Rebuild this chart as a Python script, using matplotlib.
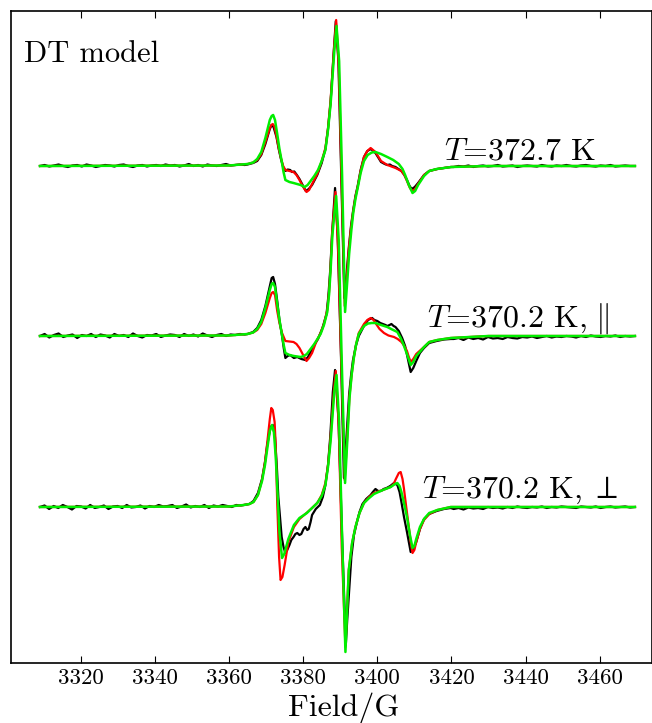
import numpy as np
import matplotlib
matplotlib.use("Agg")
import matplotlib.pyplot as plt

plt.rcParams['font.family'] = 'serif'
plt.rcParams['font.serif'] = ['cmr10']
plt.rcParams['mathtext.fontset'] = 'cm'
plt.rcParams['axes.formatter.use_mathtext'] = False

# vertical offsets of the three stacked spectra
offsets = [0, -170, -341]
labels = [r'$T$=372.7 K', r'$T$=370.2 K,$\;\|$', r'$T$=370.2 K,$\;\perp$']
label_pos = [(3417.9, 6.7), (3413.5, -160.7), (3412.0, -332.0)]
xticks = [3320, 3340, 3360, 3380, 3400, 3420, 3440, 3460]

# ---- T=372.7 K : (field, signal) ----
red_top = [(3309, 0), (3360, 0.5), (3365, 2), (3366.5, 3.5), (3367.6, 6), (3368.7, 12), (3369.8, 24), (3371.0, 38),
           (3371.4, 41), (3371.8, 42), (3372.2, 40), (3372.8, 30), (3373.4, 18), (3374.0, 8), (3374.6, 0),
           (3375.2, -4), (3376.3, -5), (3377.4, -6), (3378.2, -9), (3379.0, -14), (3380.0, -21), (3380.9, -26),
           (3381.6, -24), (3382.4, -18), (3383.8, -8), (3385.0, 5), (3386.0, 18), (3386.7, 38), (3387.4, 66),
           (3388.3, 116), (3388.9, 146), (3389.6, 100), (3390.4, -20), (3391.2, -140), (3391.8, -110),
           (3392.3, -84), (3392.9, -62), (3393.5, -45), (3394.1, -31), (3394.7, -21), (3395.5, -5), (3396.4, 9),
           (3397.3, 15), (3398.2, 18), (3399.5, 14), (3401.0, 5), (3402.7, 1), (3404.9, -2), (3406.5, -5),
           (3407.3, -9), (3408.0, -15), (3408.8, -22), (3409.5, -25), (3410.2, -23), (3411.0, -18), (3412.6, -9),
           (3414.0, -5), (3416.2, -3), (3419.8, -1), (3430, 0), (3469.5, 0)]
green_top = [(3309, 0), (3360, 0.5), (3365, 2), (3366.5, 3.5), (3367.6, 7), (3368.7, 14), (3369.8, 28), (3371.0, 46),
             (3371.5, 50), (3371.9, 51), (3372.4, 46), (3373.0, 32), (3373.6, 17), (3374.2, 5), (3374.7, -6),
             (3375.2, -14), (3376.3, -16), (3377.4, -17), (3379.3, -19), (3380.4, -21), (3381.2, -19), (3382.0, -15),
             (3383.0, -10), (3384.0, -4), (3385.0, 5), (3386.0, 16), (3386.7, 36), (3387.4, 62), (3388.4, 115),
             (3389.0, 140), (3389.7, 105), (3390.5, -10), (3391.3, -146), (3391.9, -115), (3392.4, -88),
             (3393.0, -64), (3393.5, -47), (3394.1, -33), (3394.7, -22), (3395.5, -7), (3396.4, 5), (3397.4, 11),
             (3398.5, 13.5), (3399.5, 14), (3401.0, 12), (3402.7, 9), (3404.3, 6), (3405.8, 2), (3406.8, -3),
             (3407.5, -9), (3408.5, -19), (3409.5, -27), (3410.2, -25), (3411.0, -19), (3412.6, -10), (3414.0, -5),
             (3416.0, -3), (3420.0, -1), (3430, 0), (3469.5, 0)]
black_top = [(3365, 1.5), (3366.5, 3), (3367.6, 5), (3368.7, 11), (3369.8, 22), (3371.0, 37), (3371.5, 41),
             (3372.0, 39), (3372.8, 29), (3373.4, 17), (3374.0, 7), (3374.6, -1), (3375.2, -5), (3375.8, -3.5),
             (3376.5, -4), (3377.0, -6), (3377.6, -5.5), (3378.3, -9), (3379.0, -13), (3380.0, -20), (3380.7, -25),
             (3381.5, -23), (3382.4, -19), (3383.8, -9), (3385.0, 3), (3386.0, 17), (3386.7, 37), (3387.4, 64),
             (3388.2, 112), (3388.8, 145), (3389.5, 105), (3390.3, -15), (3391.1, -132), (3391.7, -108),
             (3392.3, -82), (3392.9, -60), (3393.5, -44), (3394.1, -30), (3394.7, -20), (3395.5, -4), (3396.4, 9),
             (3397.3, 15), (3398.3, 17), (3399.5, 13), (3401.0, 4), (3402.0, 2), (3402.7, 1), (3403.4, 1.5),
             (3404.0, 0), (3404.9, -1), (3405.7, -3), (3406.5, -5), (3407.3, -9), (3408.0, -14), (3408.7, -20),
             (3409.3, -23), (3410.1, -21), (3411.0, -17), (3412.6, -9), (3414.0, -5), (3416.2, -3), (3419.8, -1)]
black_top_left = [0, 1, -0.5, 0.5, 1.5, 0, -1, 0.5, 1, -0.5, 1.5, 0.5, -1, 0, 1, 0.5, -0.5, 1, 1.5, 0, -1, 0.5, 1,
                  -0.5, 0.5, 1, 0, 1.5, 0.5, 1, -0.5, 0.5, 2, 0, 1, -0.5, 1.5, 0.5, 0, 1, 2, 0.5, 1, 1.5, 1]
black_top_right = [-1, 0, -0.5, 0.5, -1, 0, 0.5, -0.5, 0, 1, -0.5, 0, 0.5, -1, 0, 0.5, 0, -0.5, 1, 0, -0.5, 0.5, 0,
                   1, 0, -0.5, 0.5, 1, 0, -0.5, 0.5, 0, 1, -0.5, 0, 0.5, 0, 0]

# ---- T=370.2 K, parallel ----
red_mid = [(3309, 0), (3360, 0.5), (3365, 2), (3366.5, 3.5), (3367.6, 6), (3368.7, 12), (3369.8, 23), (3371.0, 38),
           (3371.5, 43), (3371.9, 44), (3372.4, 41), (3373.0, 25), (3373.6, 13), (3374.3, 3), (3375.2, -5),
           (3376.3, -5.5), (3377.4, -6), (3378.2, -8), (3379.0, -12), (3380.0, -19), (3380.9, -25), (3381.6, -22),
           (3382.4, -17), (3383.5, -6), (3384.7, 3), (3385.6, 12), (3386.5, 26), (3387.0, 45), (3387.4, 69),
           (3387.8, 103), (3388.7, 144), (3389.4, 90), (3390.3, -30), (3391.2, -144), (3391.9, -100), (3392.5, -60),
           (3393.1, -38), (3393.7, -21), (3394.3, -8), (3395.0, 3), (3396.4, 12), (3397.3, 16), (3398.2, 18),
           (3399.0, 16), (3399.5, 13), (3400.6, 7), (3401.8, 3), (3403.0, 0.5), (3404.5, -1), (3405.5, -3),
           (3406.5, -6), (3407.3, -10), (3408.0, -15), (3408.5, -21), (3409.0, -26), (3409.7, -23), (3410.5, -18),
           (3412.6, -11), (3414.0, -6), (3416.2, -4), (3419.8, -2), (3430, 0), (3469.5, 0)]
green_mid = [(3309, 0), (3360, 0.5), (3365, 2), (3366.5, 3.5), (3367.6, 7), (3368.7, 14), (3369.8, 28), (3371.0, 46),
             (3371.5, 52), (3371.9, 53), (3372.4, 49), (3373.0, 32), (3373.6, 16), (3374.2, 3), (3374.7, -8),
             (3375.2, -17), (3376.3, -19), (3377.5, -20), (3379.3, -21), (3380.2, -20), (3381.0, -18), (3382.0, -13),
             (3383.0, -8), (3384.7, 2), (3385.6, 11), (3386.5, 24), (3387.0, 42), (3387.4, 66), (3387.9, 102),
             (3388.9, 140), (3389.6, 95), (3390.4, -25), (3391.3, -147), (3391.9, -105), (3392.5, -62),
             (3393.1, -38), (3393.7, -21), (3394.3, -8), (3395.0, 2), (3396.4, 10), (3397.5, 12.5), (3398.5, 13),
             (3399.5, 13), (3401.0, 11), (3402.7, 9), (3404.0, 6.5), (3405.4, 4), (3406.3, -2), (3407.0, -8),
             (3408.0, -18), (3409.0, -29), (3409.7, -26), (3410.5, -20), (3412.6, -11), (3414.0, -6), (3416.2, -4),
             (3419.8, -2), (3430, 0), (3469.5, 0)]
black_mid = [(3365, 2), (3366.5, 4), (3367.6, 8), (3368.7, 16), (3369.8, 30), (3371.0, 50), (3371.5, 58),
             (3371.9, 59), (3372.4, 52), (3373.0, 35), (3373.6, 16), (3374.3, 0), (3374.8, -13), (3375.2, -22),
             (3375.8, -20), (3376.5, -19), (3377.5, -22), (3378.4, -21), (3379.5, -23), (3380.6, -24), (3381.3, -21),
             (3382.0, -16), (3383.0, -9), (3384.0, -3), (3385.2, 8), (3386.3, 22), (3386.8, 40), (3387.3, 66),
             (3387.8, 102), (3388.6, 148), (3389.3, 100), (3390.2, -20), (3391.0, -142), (3391.7, -100),
             (3392.4, -58), (3392.9, -40), (3393.4, -25), (3394.2, -10), (3395.0, 0), (3396.4, 10), (3397.5, 16),
             (3398.6, 18), (3399.2, 16), (3400.0, 15), (3400.8, 13), (3401.5, 12), (3402.2, 11), (3402.7, 10),
             (3403.3, 11), (3403.8, 12), (3404.4, 10), (3404.9, 9), (3405.8, 5), (3406.7, -2), (3407.5, -10),
             (3408.3, -24), (3409.0, -36), (3409.7, -32), (3410.5, -25), (3411.5, -17), (3412.6, -12), (3414.0, -7),
             (3416.0, -5), (3418.0, -3.5), (3419.8, -3)]
black_mid_left = [0, 2, -1.5, 1, 2.5, -1, 0.5, 1.5, -2, 1, 0, 2, -1, 1.5, 0.5, -1.5, 2, 0, 1, -1, 2.5, 0, -1.5, 1,
                  0.5, 2, -1, 0.5, 1.5, 1, -1, 2, 0, 1.5, -0.5, 2.5, 0.5, -1, 1, 2, 0, 1.5, 1, 2, 1.5]
black_mid_right = [-3, -2, -4, -1.5, -3, -2, -3.5, -1, -2.5, -2, -3, -1, -2, -2.5, -1, -1.5, -0.5, -2, -1, 0, -1.5,
                   -0.5, -1, 0, -0.5, -1.5, 0, -1, 0.5, -0.5, -1, 0, -0.5, 0.5, -1, 0, -0.5, 0]

# ---- T=370.2 K, perpendicular ----
red_bot = [(3309, 0), (3360, 0.5), (3364, 2), (3365.5, 3), (3366.6, 5), (3367.8, 12), (3368.9, 27), (3369.7, 45),
           (3370.3, 64), (3371.0, 88), (3371.4, 99), (3371.8, 97), (3372.3, 85), (3372.6, 60), (3373.0, 4),
           (3373.5, -50), (3373.9, -73), (3374.4, -70), (3375.0, -58), (3376.0, -35), (3377.5, -20), (3379.0, -12),
           (3380.9, -6), (3382.4, -1), (3383.8, 4), (3385.0, 12), (3386.0, 24), (3386.7, 42), (3387.4, 70),
           (3388.3, 117), (3388.8, 136), (3389.6, 80), (3390.4, -40), (3391.4, -140), (3391.8, -105), (3392.3, -63),
           (3393.2, -36), (3394.1, -20), (3395.2, -6), (3396.4, 4), (3397.8, 10), (3399.1, 14), (3401.5, 17),
           (3403.6, 20), (3404.4, 23), (3405.0, 28), (3405.8, 34), (3406.3, 35), (3406.8, 28), (3407.2, 18),
           (3407.8, 0), (3408.5, -20), (3409.0, -35), (3409.5, -46), (3410.0, -43), (3410.5, -35), (3411.5, -22),
           (3412.6, -13), (3414.0, -7), (3416.2, -3), (3419.8, 0), (3430, 0), (3469.5, 0)]
green_bot = [(3309, 0), (3360, 0.5), (3364, 2), (3365.5, 3), (3366.6, 5), (3367.8, 12), (3368.9, 26), (3369.7, 42),
             (3370.3, 58), (3371.0, 76), (3371.6, 82), (3372.1, 75), (3372.6, 50), (3373.0, 20), (3373.6, -25),
             (3374.3, -51), (3374.9, -47), (3376.0, -32), (3377.5, -18), (3379.0, -11), (3381.0, -6), (3382.4, -1),
             (3383.8, 4), (3385.0, 11), (3386.0, 22), (3386.7, 40), (3387.4, 66), (3388.4, 115), (3389.0, 132),
             (3389.7, 85), (3390.5, -30), (3391.4, -145), (3391.8, -108), (3392.3, -63), (3393.2, -36),
             (3394.1, -20), (3395.2, -6), (3396.4, 4), (3397.8, 9), (3399.1, 13), (3401.5, 17), (3403.6, 20),
             (3404.8, 23), (3405.4, 24), (3406.0, 21), (3406.5, 15), (3407.2, 4), (3408.0, -10), (3408.8, -28),
             (3409.5, -41), (3410.0, -39), (3410.5, -32), (3411.5, -20), (3412.6, -12), (3414.0, -6), (3416.2, -3),
             (3419.8, 0), (3430, 0), (3469.5, 0)]
black_bot = [(3364, 2), (3365.5, 3), (3366.6, 6), (3367.8, 14), (3368.9, 28), (3369.7, 45), (3370.3, 62),
             (3371.2, 80), (3371.8, 82), (3372.4, 70), (3372.9, 40), (3373.3, 10), (3373.8, -12), (3374.2, -30),
             (3374.7, -40), (3375.2, -46), (3375.7, -43), (3376.3, -38), (3376.8, -33), (3377.4, -30), (3377.9, -27),
             (3378.4, -26), (3379.0, -28), (3379.5, -27), (3380.1, -22), (3380.6, -20), (3381.1, -23), (3381.5, -22),
             (3382.0, -15), (3382.4, -8), (3383.4, -2), (3384.5, 2), (3385.3, 10), (3386.0, 22), (3386.7, 42),
             (3387.3, 70), (3388.0, 115), (3388.6, 137), (3389.5, 90), (3390.5, -30), (3391.5, -138),
             (3391.9, -112), (3392.3, -90), (3393.0, -50), (3393.7, -28), (3394.5, -15), (3395.2, -5), (3396.0, 3),
             (3397.0, 8), (3398.2, 12), (3398.8, 15), (3399.5, 18), (3400.2, 16), (3401.0, 16), (3401.7, 18),
             (3402.5, 19), (3403.5, 21), (3404.5, 24), (3405.4, 22), (3406.0, 15), (3406.5, 5), (3407.2, -10),
             (3408.0, -25), (3409.0, -45), (3409.7, -42), (3410.5, -35), (3411.5, -22), (3412.6, -12), (3414.0, -7),
             (3416.0, -4), (3418.0, -2), (3419.8, -1)]
black_bot_left = [0, 1.5, -2, 1, -1, 2, 0, -2.5, 1, 0.5, -1.5, 2, -1, 0, 1.5, -2, 0.5, 1, -1, 2, -0.5, 0, 1.5, -1.5,
                  1, 0, 2, 0.5, 1, 2, -1, 0.5, 2.5, -0.5, 1, 0, 2, -1, 1.5, 0.5, 2, 1, 0, 2, 1.5]
black_bot_right = [-2, -1, -2.5, -0.5, -1.5, -1, -2, 0, -1, -0.5, -1.5, 0, -1, 0.5, -0.5, -1, 0, -0.5, 0.5, -1, 0,
                   -0.5, 0.5, 0, -0.5, -1, 0.5, 0, -0.5, 0.5, -1, 0, 0.5, -0.5, 0, 0.5, -0.5, 0]

black_sets = [(black_top_left, black_top, black_top_right),
              (black_mid_left, black_mid, black_mid_right),
              (black_bot_left, black_bot, black_bot_right)]
red_sets = [red_top, red_mid, red_bot]
green_sets = [green_top, green_mid, green_bot]

fig = plt.figure(figsize=(6.52, 7.23), dpi=100)
ax = fig.add_axes([0.0164, 0.083, 0.9836, 0.9022])

for i, off in enumerate(offsets):
    left, feat, right = black_sets[i]
    fb = np.array(feat)
    bx = np.concatenate([np.linspace(3309, fb[0, 0] - 0.8, len(left)), fb[:, 0],
                         np.linspace(fb[-1, 0] + 0.8, 3469.5, len(right))])
    by = np.concatenate([left, fb[:, 1], right]) + off
    ax.plot(bx, by, color='black', lw=1.6, zorder=2)
    r = np.array(red_sets[i])
    ax.plot(r[:, 0], r[:, 1] + off, color='#ff0000', lw=1.6, zorder=3)
    g = np.array(green_sets[i])
    ax.plot(g[:, 0], g[:, 1] + off, color='#00ee00', lw=1.8, zorder=4)
    ax.text(label_pos[i][0], label_pos[i][1], labels[i], fontsize=23, ha='left', va='baseline')

ax.text(3304.7, 104, 'DT model', fontsize=22, ha='left', va='baseline')

ax.set_xlim(3301.1, 3474.1)
ax.set_ylim(-497, 155.3)
ax.set_xticks(xticks)
ax.set_xticklabels([str(t) for t in xticks], fontsize=16.5, fontfamily='serif')
ax.set_yticks([])
ax.tick_params(axis='x', direction='in', top=True, length=5, width=0.8, pad=4)
for s in ax.spines.values():
    s.set_linewidth(1.2)
fig.text(344 / 652, 1 - 716 / 723, 'Field/G', fontsize=23, ha='center', va='baseline')

fig.savefig('out.png', dpi=100)
